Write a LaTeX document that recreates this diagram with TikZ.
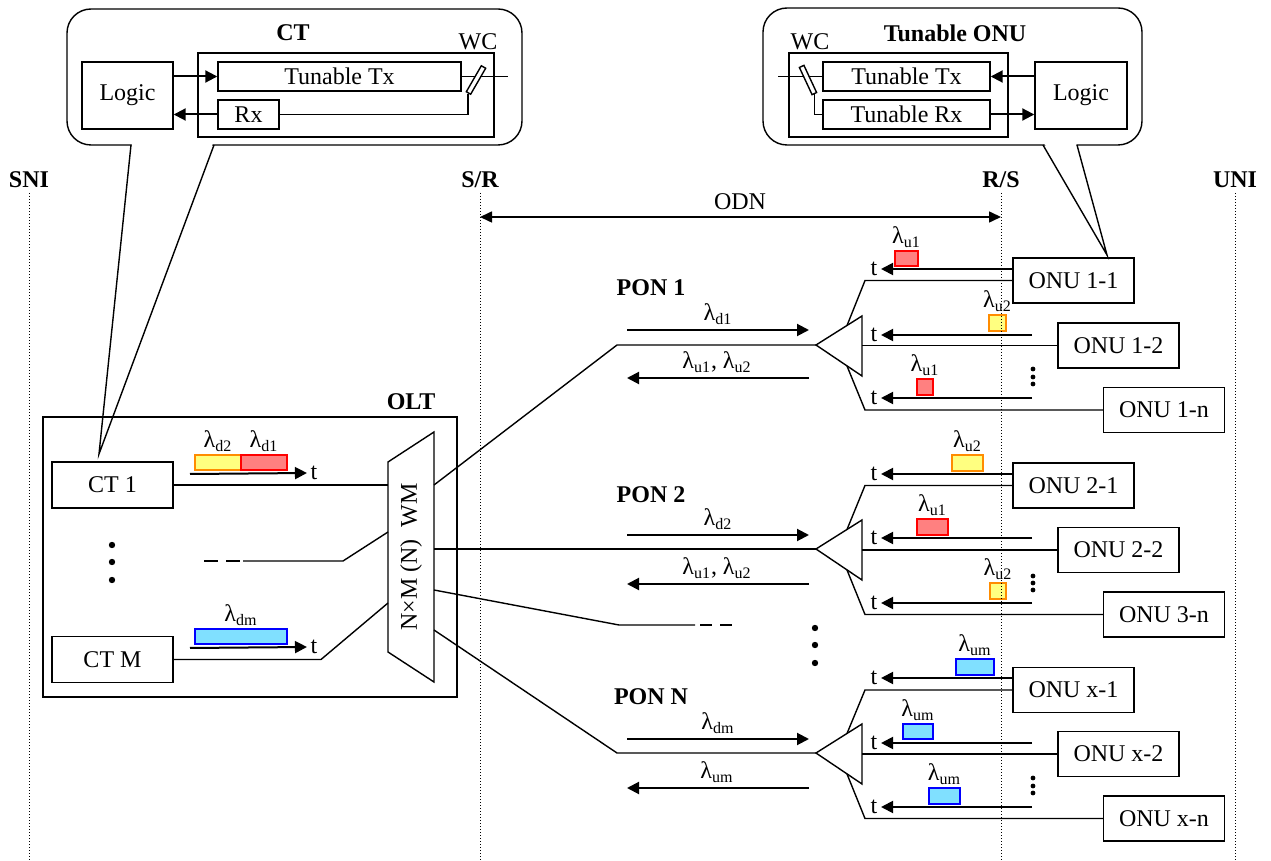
\documentclass[tikz,border=0pt]{standalone}
\usepackage{fontspec}
\setmainfont{Liberation Serif}
\usetikzlibrary{arrows.meta}
\definecolor{pulsered}{RGB}{255,128,128}
\definecolor{pulseyellow}{RGB}{255,255,128}
\definecolor{pulseblue}{RGB}{128,224,255}
\definecolor{pulseorange}{RGB}{255,140,0}

\begin{document}
\begin{tikzpicture}[x=0.5pt,y=-0.5pt,line width=0.7pt,
  font=\fontsize{12}{14}\selectfont,
  box/.style={draw,inner sep=0pt,minimum height=22.5pt},
  onubox/.style={box,minimum width=60.5pt},
  sig/.style={line width=1pt,-{Triangle[length=6pt,width=6pt]}},
  refline/.style={densely dotted,line width=0.5pt},
  lam/.style={anchor=south,inner sep=1pt},
  tlbl/.style={inner sep=1.5pt},
  redp/.style={draw=red,fill=pulsered,line width=0.7pt,inner sep=0pt},
  yelp/.style={draw=pulseorange,fill=pulseyellow,line width=0.7pt,inner sep=0pt},
  bluep/.style={draw=blue,fill=pulseblue,line width=0.7pt,inner sep=0pt}]
\useasboundingbox (0,0) rectangle (1271,861);

% CT callout
\draw[rounded corners=12pt] (67,9) rectangle (522,145);
\coordinate (cttaila) at (131,145);
\coordinate (cttailb) at (214,145);
\coordinate (cttip) at (99,454);
\fill[white] (132,143) -- (cttip) -- (213,143) -- cycle;
\draw (cttaila) -- (cttip) -- (cttailb);
\node (ctlbl) at (293,33) {\bfseries CT};
\node (wc1lbl) at (478,42) {WC};
\node (ctmod) at (346,95) [draw,minimum width=148pt,minimum height=42pt] {};
\node (logic1) at (127.5,95.5) [box,minimum width=45.5pt,minimum height=33.5pt] {Logic};
\node (tx1) at (339.5,76.5) [box,minimum width=121.5pt,minimum height=14.5pt] {Tunable Tx};
\node (rx1) at (248.5,114.5) [box,minimum width=30.5pt,minimum height=14.5pt] {Rx};
\coordinate (ctout) at (508,76.5);
\draw (tx1.east) -- (ctout);
\node (wc1) at (476,80) [draw,fill=white,inner sep=0pt,minimum width=2.5pt,minimum height=15pt,rotate=-30] {};
\draw (rx1.east) -| (wc1.south);
\draw[sig] (logic1.east |- tx1.west) -- (tx1.west);
\draw[sig] (rx1.west) -- (logic1.east |- rx1.west);

% ONU callout
\draw[rounded corners=12pt] (763,8) rectangle (1142,145);
\coordinate (onutaila) at (1043,145);
\coordinate (onutailb) at (1077,145);
\coordinate (onutip) at (1107,255);
\fill[white] (1044,143) -- (onutip) -- (1076,143) -- cycle;
\draw (onutaila) -- (onutip) -- (onutailb);
\node (onulbl) at (955,33) {\bfseries Tunable ONU};
\node (wc2lbl) at (810,42) {WC};
\node (onumod) at (898.5,95) [draw,minimum width=109.5pt,minimum height=42pt] {};
\node (tx2) at (906.5,76.5) [box,minimum width=83.5pt,minimum height=14.5pt] {Tunable Tx};
\node (rx2) at (906.5,114.5) [box,minimum width=83.5pt,minimum height=14.5pt] {Tunable Rx};
\node (logic2) at (1081,95.5) [box,minimum width=46pt,minimum height=33.5pt] {Logic};
\coordinate (onuin) at (778,76.5);
\draw (onuin) -- (tx2.west);
\node (wc2) at (808,80) [draw,fill=white,inner sep=0pt,minimum width=2.5pt,minimum height=15pt,rotate=25] {};
\draw (wc2.south) |- (rx2.west);
\draw[sig] (logic2.west |- tx2.east) -- (tx2.east);
\draw[sig] (rx2.east) -- (logic2.west |- rx2.east);

% reference points
\node (sni) at (29,180) {\bfseries SNI};
\node (sr) at (480,180) {\bfseries S/R};
\node (rs) at (1001,180) {\bfseries R/S};
\node (uni) at (1235,180) {\bfseries UNI};
\coordinate (odnl) at (480,217);
\coordinate (odnr) at (1001,217);
\draw[line width=0.8pt,{Triangle[length=6pt,width=5.5pt]}-{Triangle[length=6pt,width=5.5pt]}] (odnl) -- (odnr);
\node (odn) at (740,202) {ODN};

% OLT
\node (olt) at (250,557) [draw,minimum width=207pt,minimum height=140pt] {};
\node (oltlbl) at (411,402) {\bfseries OLT};
\node (ct1) at (112.5,485) [box,minimum width=60.5pt,minimum height=23pt] {CT 1};
\node (ctm) at (112.5,659.5) [box,minimum width=60.5pt,minimum height=23pt] {CT M};
\fill (112,545) circle (1.6pt);
\fill (112,562) circle (1.6pt);
\fill (112,580) circle (1.6pt);
\coordinate (wma) at (388,462);
\coordinate (wmb) at (434,432);
\coordinate (wmc) at (434,682);
\coordinate (wmd) at (388,652);
\draw (wma) -- (wmb) -- (wmc) -- (wmd) -- cycle;
\node (wm) at (411,557) [rotate=90] {N×M (N)\ \ WM};
\coordinate (wmin1) at (388,485);
\coordinate (wmin2) at (388,532);
\coordinate (wmin3) at (388,603);
\draw (ct1.east) -- (wmin1);
\coordinate (dasha) at (204,561);
\coordinate (dashb) at (240,561);
\coordinate (dashc) at (243,561);
\coordinate (bend2) at (343,561);
\draw[dash pattern=on 7pt off 4pt] (dasha) -- (dashb);
\draw (dashc) -- (bend2) -- (wmin2);
\coordinate (bend3) at (321,659.5);
\draw (ctm.east) -- (bend3) -- (wmin3);
% downstream pulses in the OLT
\node (pd2) at (218,462.5) [yelp,minimum width=23pt,minimum height=7.5pt] {};
\node (pd1) at (264,462.5) [redp,minimum width=23pt,minimum height=7.5pt] {};
\node (lpd2) at (pd2.north) [lam] {λ\textsubscript{d2}};
\node (lpd1) at (pd1.north) [lam] {λ\textsubscript{d1}};
\coordinate (ct1s) at (190,474);
\node (tct1) at (314,473) [tlbl] {t};
\draw[sig] (ct1s) -- (tct1.west);
\node (pdm) at (241,636.5) [bluep,minimum width=46pt,minimum height=7.5pt] {};
\node (lpdm) at (pdm.north) [lam] {λ\textsubscript{dm}};
\coordinate (ctms) at (190,648);
\node (tctm) at (314,647) [tlbl] {t};
\draw[sig] (ctms) -- (tctm.west);

% WM outputs
\coordinate (wmout1) at (434,485);
\coordinate (wmout2) at (434,549);
\coordinate (wmout3) at (434,590);
\coordinate (wmout4) at (434,630);
\coordinate (tip1) at (816,345);
\coordinate (tip2) at (816,549);
\coordinate (tip3) at (816,753);
\draw (wmout1) -- (617,345) -- (tip1);
\draw (wmout2) -- (tip2);
\coordinate (pona) at (619,625);
\coordinate (ponb) at (695,625);
\coordinate (ponc) at (700,625);
\coordinate (pond) at (733,625);
\draw (wmout3) -- (pona) -- (ponb);
\draw[dash pattern=on 6pt off 4pt] (ponc) -- (pond);
\draw (wmout4) -- (617,753) -- (tip3);
\fill (815,628) circle (1.6pt);
\fill (815,645) circle (1.6pt);
\fill (815,663) circle (1.6pt);

% PON 1
\node (pon1) at (651,288) {\bfseries PON 1};
\coordinate (d1a) at (627,330);
\coordinate (d1b) at (809,330);
\draw[sig] (d1a) -- (d1b);
\node (ld1) at (718,327) [lam] {λ\textsubscript{d1}};
\coordinate (u1a) at (809,378);
\coordinate (u1b) at (627,378);
\draw[sig] (u1a) -- (u1b);
\node (lu1) at (717,375) [lam] {λ\textsubscript{u1}, λ\textsubscript{u2}};
\draw (tip1) -- (862,316) -- (862,376) -- cycle;
\node (onu11) at (1073.5,280.5) [onubox] {ONU 1-1};
\node (onu12) at (1118.5,345.5) [onubox] {ONU 1-2};
\node (onu1n) at (1164,410) [onubox] {ONU 1-n};
\coordinate (up1) at (847,325.5);
\coordinate (mid1) at (862,345.5);
\coordinate (lo1) at (847,366);
\draw (up1) -- (865,280.5) -- (onu11.west);
\draw (mid1) -- (onu12.west);
\draw (lo1) -- (865,410) -- (onu1n.west);
\node (t11) at (874,269) [tlbl] {t};
\node (t12) at (874,335) [tlbl] {t};
\node (t1n) at (874,398) [tlbl] {t};
\coordinate (s12) at (1032,335);
\coordinate (s1n) at (1032,398);
\draw[sig] ([yshift=5.75pt]onu11.west) -- (t11.east);
\draw[sig] (s12) -- (t12.east);
\draw[sig] (s1n) -- (t1n.east);
\node (p11) at (906.5,258.5) [redp,minimum width=11.5pt,minimum height=7.5pt] {};
\node (lp11) at (p11.north) [lam] {λ\textsubscript{u1}};
\node (p12) at (997.5,323) [yelp,minimum width=8.5pt,minimum height=8pt] {};
\node (lp12) at (p12.north) [lam] {λ\textsubscript{u2}};
\node (p1n) at (925,387) [redp,minimum width=8pt,minimum height=8pt] {};
\node (lp1n) at (p1n.north) [lam] {λ\textsubscript{u1}};
\fill (1033,369) circle (1.2pt);
\fill (1033,377) circle (1.2pt);
\fill (1033,384) circle (1.2pt);

% PON 2
\node (pon2) at (651,495) {\bfseries PON 2};
\coordinate (d2a) at (627,535);
\coordinate (d2b) at (809,535);
\draw[sig] (d2a) -- (d2b);
\node (ld2) at (718,532) [lam] {λ\textsubscript{d2}};
\coordinate (u2a) at (809,584);
\coordinate (u2b) at (627,584);
\draw[sig] (u2a) -- (u2b);
\node (lu2) at (717,581) [lam] {λ\textsubscript{u1}, λ\textsubscript{u2}};
\draw (tip2) -- (862,520) -- (862,580) -- cycle;
\node (onu21) at (1073.5,485.5) [onubox] {ONU 2-1};
\node (onu22) at (1118.5,550) [onubox] {ONU 2-2};
\node (onu2n) at (1164,614.5) [onubox] {ONU 3-n};
\coordinate (up2) at (847,529.5);
\coordinate (mid2) at (862,550);
\coordinate (lo2) at (847,570);
\draw (up2) -- (865,485.5) -- (onu21.west);
\draw (mid2) -- (onu22.west);
\draw (lo2) -- (865,614.5) -- (onu2n.west);
\node (t21) at (874,474) [tlbl] {t};
\node (t22) at (874,538) [tlbl] {t};
\node (t2n) at (874,603) [tlbl] {t};
\coordinate (s22) at (1032,538);
\coordinate (s2n) at (1032,603);
\draw[sig] ([yshift=5.75pt]onu21.west) -- (t21.east);
\draw[sig] (s22) -- (t22.east);
\draw[sig] (s2n) -- (t2n.east);
\node (p21) at (967.5,463) [yelp,minimum width=15.5pt,minimum height=8pt] {};
\node (lp21) at (p21.north) [lam] {λ\textsubscript{u2}};
\node (p22) at (932.5,527) [redp,minimum width=15.5pt,minimum height=8pt] {};
\node (lp22) at (p22.north) [lam] {λ\textsubscript{u1}};
\node (p2n) at (998,591) [yelp,minimum width=8pt,minimum height=8pt] {};
\node (lp2n) at (p2n.north) [lam] {λ\textsubscript{u2}};
\fill (1033,576) circle (1.2pt);
\fill (1033,583) circle (1.2pt);
\fill (1033,590) circle (1.2pt);

% PON N
\node (ponn) at (651,697) {\bfseries PON N};
\coordinate (d3a) at (627,739);
\coordinate (d3b) at (809,739);
\draw[sig] (d3a) -- (d3b);
\node (ld3) at (718,736) [lam] {λ\textsubscript{dm}};
\coordinate (u3a) at (809,788);
\coordinate (u3b) at (627,788);
\draw[sig] (u3a) -- (u3b);
\node (lu3) at (717,785) [lam] {λ\textsubscript{um}};
\draw (tip3) -- (862,724) -- (862,784) -- cycle;
\node (onux1) at (1073.5,690) [onubox] {ONU x-1};
\node (onux2) at (1118.5,754) [onubox] {ONU x-2};
\node (onuxn) at (1164,818.5) [onubox] {ONU x-n};
\coordinate (up3) at (847,733.5);
\coordinate (mid3) at (862,754);
\coordinate (lo3) at (847,774);
\draw (up3) -- (865,690) -- (onux1.west);
\draw (mid3) -- (onux2.west);
\draw (lo3) -- (865,818.5) -- (onuxn.west);
\node (t31) at (874,678) [tlbl] {t};
\node (t32) at (874,743) [tlbl] {t};
\node (t3n) at (874,807) [tlbl] {t};
\coordinate (s32) at (1032,743);
\coordinate (s3n) at (1032,807);
\draw[sig] ([yshift=6pt]onux1.west) -- (t31.east);
\draw[sig] (s32) -- (t32.east);
\draw[sig] (s3n) -- (t3n.east);
\node (p31) at (975,667) [bluep,minimum width=19pt,minimum height=8pt] {};
\node (lp31) at (p31.north) [lam] {λ\textsubscript{um}};
\node (p32) at (918,731.5) [bluep,minimum width=15pt,minimum height=7.5pt] {};
\node (lp32) at (p32.north) [lam] {λ\textsubscript{um}};
\node (p3n) at (944.5,796) [bluep,minimum width=15.5pt,minimum height=8pt] {};
\node (lp3n) at (p3n.north) [lam] {λ\textsubscript{um}};
\fill (1033,778) circle (1.2pt);
\fill (1033,786) circle (1.2pt);
\fill (1033,793) circle (1.2pt);

% dotted reference lines
\coordinate (snia) at (29,193);
\coordinate (snib) at (29,861);
\coordinate (sra) at (480,193);
\coordinate (srb) at (480,861);
\coordinate (rsa) at (1001,193);
\coordinate (rsb) at (1001,861);
\coordinate (unia) at (1235,193);
\coordinate (unib) at (1235,861);
\draw[refline] (snia) -- (snib);
\draw[refline] (sra) -- (srb);
\draw[refline] (rsa) -- (rsb);
\draw[refline] (unia) -- (unib);
\end{tikzpicture}
\end{document}
